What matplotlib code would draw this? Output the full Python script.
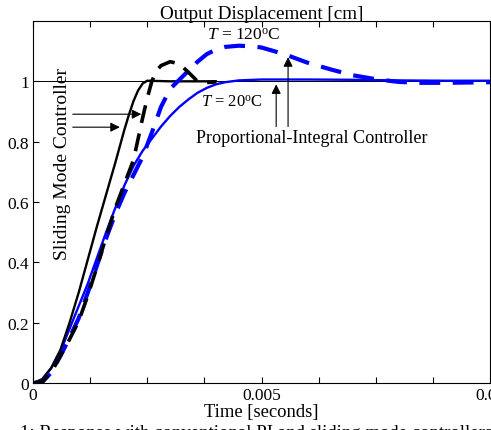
import numpy as np
import matplotlib
matplotlib.use("Agg")
import matplotlib.pyplot as plt

plt.rcParams['font.family'] = ['Liberation Serif', 'DejaVu Serif']
plt.rcParams['mathtext.fontset'] = 'custom'
plt.rcParams['mathtext.rm'] = 'Liberation Serif'
plt.rcParams['mathtext.it'] = 'Liberation Serif:italic'

# Sliding mode controller, T = 20 C (black solid)
t_smc20 = [0, 0.0002, 0.0004, 0.0006, 0.0008, 0.001, 0.0012, 0.0014, 0.0016,
           0.0018, 0.002, 0.0021, 0.0022, 0.0023, 0.0024, 0.0025, 0.003, 0.0035, 0.004]
y_smc20 = [0, 0.012, 0.05, 0.11, 0.2, 0.3, 0.41, 0.52, 0.625,
           0.73, 0.84, 0.89, 0.935, 0.97, 0.993, 1.002, 1.0, 1.0, 1.0]

# Sliding mode controller, T = 120 C (black dashed)
t_smc120 = [0, 0.0002, 0.0004, 0.0006, 0.0008, 0.001, 0.0012, 0.0014, 0.0016,
            0.0018, 0.002, 0.0022, 0.0023, 0.0024, 0.0025, 0.0026, 0.0027, 0.0028,
            0.003, 0.0032, 0.0034, 0.0036, 0.0038, 0.004]
y_smc120 = [0, 0.003, 0.035, 0.09, 0.145, 0.205, 0.29, 0.385, 0.485,
            0.58, 0.66, 0.74, 0.81, 0.88, 0.945, 1.0, 1.035, 1.052,
            1.065, 1.058, 1.03, 1.0, 0.996, 0.998]

# PI controller, T = 20 C (blue solid)
t_pi20 = [0, 0.0002, 0.0004, 0.0006, 0.0008, 0.001, 0.0012, 0.0014, 0.0016,
          0.0018, 0.002, 0.0022, 0.0024, 0.0026, 0.0028, 0.003, 0.0032, 0.0034,
          0.0036, 0.0038, 0.004, 0.0042, 0.0045, 0.005, 0.006, 0.007, 0.008,
          0.009, 0.01]
y_pi20 = [0, 0.012, 0.05, 0.105, 0.18, 0.255, 0.33, 0.415, 0.5,
          0.58, 0.655, 0.72, 0.77, 0.81, 0.85, 0.885, 0.915, 0.94,
          0.962, 0.978, 0.99, 0.997, 1.003, 1.006, 1.006, 1.005, 1.003,
          1.002, 1.002]

# PI controller, T = 120 C (blue dashed)
t_pi120 = [0, 0.0002, 0.0004, 0.0006, 0.0008, 0.001, 0.0012, 0.0014, 0.0016,
           0.0018, 0.002, 0.0022, 0.0024, 0.0026, 0.0028, 0.003, 0.0032, 0.0034,
           0.0036, 0.0038, 0.004, 0.0042, 0.0045, 0.0048, 0.005, 0.0055, 0.006,
           0.0065, 0.007, 0.0075, 0.008, 0.0085, 0.009, 0.0095, 0.01]
y_pi120 = [0, 0.003, 0.035, 0.09, 0.15, 0.215, 0.3, 0.39, 0.48,
           0.56, 0.63, 0.69, 0.75, 0.83, 0.915, 0.975, 1.005, 1.035,
           1.065, 1.09, 1.105, 1.114, 1.118, 1.116, 1.112, 1.09, 1.062,
           1.04, 1.02, 1.007, 0.998, 0.995, 0.995, 0.996, 0.997]

xticks = np.arange(0, 0.0101, 0.00125)
xticklabels = ['0', '', '', '', '0.005', '', '', '', '0.01']
yticks = [0, 0.2, 0.4, 0.6, 0.8, 1.0]
yticklabels = ['0', '0.2', '0.4', '0.6', '0.8', '1']

fig = plt.figure(figsize=(4.91, 4.31), dpi=100)
ax = fig.add_axes([0.0672, 0.109, 0.931, 0.840])

ax.axhline(1.0, color='black', lw=0.7)
ax.plot(t_pi20, y_pi20, color='blue', lw=1.7)
ax.plot(t_smc20, y_smc20, color='black', lw=1.7)
ax.plot(t_pi120, y_pi120, color='blue', lw=3.0, dashes=(5, 3))
ax.plot(t_smc120, y_smc120, color='black', lw=2.6, dashes=(5, 3))

ax.set_xlim(0, 0.01)
ax.set_ylim(0, 1.2)
ax.set_xticks(xticks)
ax.set_xticklabels(xticklabels)
ax.set_yticks(yticks)
ax.set_yticklabels(yticklabels)
ax.tick_params(direction='in', top=True, right=False, length=4, labelsize=12.5, pad=3)

ax.set_title('Output Displacement [cm]', fontsize=13.8, pad=2)
ax.set_xlabel('Time [seconds]', fontsize=13.4, labelpad=0)

ax.text(0.0046, 1.155, r'$T$ = 120$^{\rm o}$C', fontsize=12.5, ha='center', va='center')
ax.text(0.00436, 0.934, r'$T$ = 20$^{\rm o}$C', fontsize=12, ha='center', va='center')
ax.text(0.0061, 0.815, 'Proportional-Integral Controller', fontsize=13.1,
        ha='center', va='center')
ax.text(0.00065, 0.73, 'Sliding Mode Controller', fontsize=14, rotation=90,
        ha='center', va='center')

arrow = dict(arrowstyle='-|>', color='black', lw=0.8, mutation_scale=14,
             shrinkA=0, shrinkB=0)
ax.annotate('', xy=(0.00532, 0.99), xytext=(0.00532, 0.85), arrowprops=arrow)
ax.annotate('', xy=(0.00558, 1.08), xytext=(0.00558, 0.85), arrowprops=arrow)
ax.annotate('', xy=(0.00237, 0.891), xytext=(0.00087, 0.891), arrowprops=arrow)
ax.annotate('', xy=(0.0019, 0.848), xytext=(0.00087, 0.848), arrowprops=arrow)

fig.text(0.04, 0.014, '1: Response with conventional PI and sliding mode controllers',
         fontsize=13.5, ha='left', va='top')

fig.savefig('out.png', dpi=100)
